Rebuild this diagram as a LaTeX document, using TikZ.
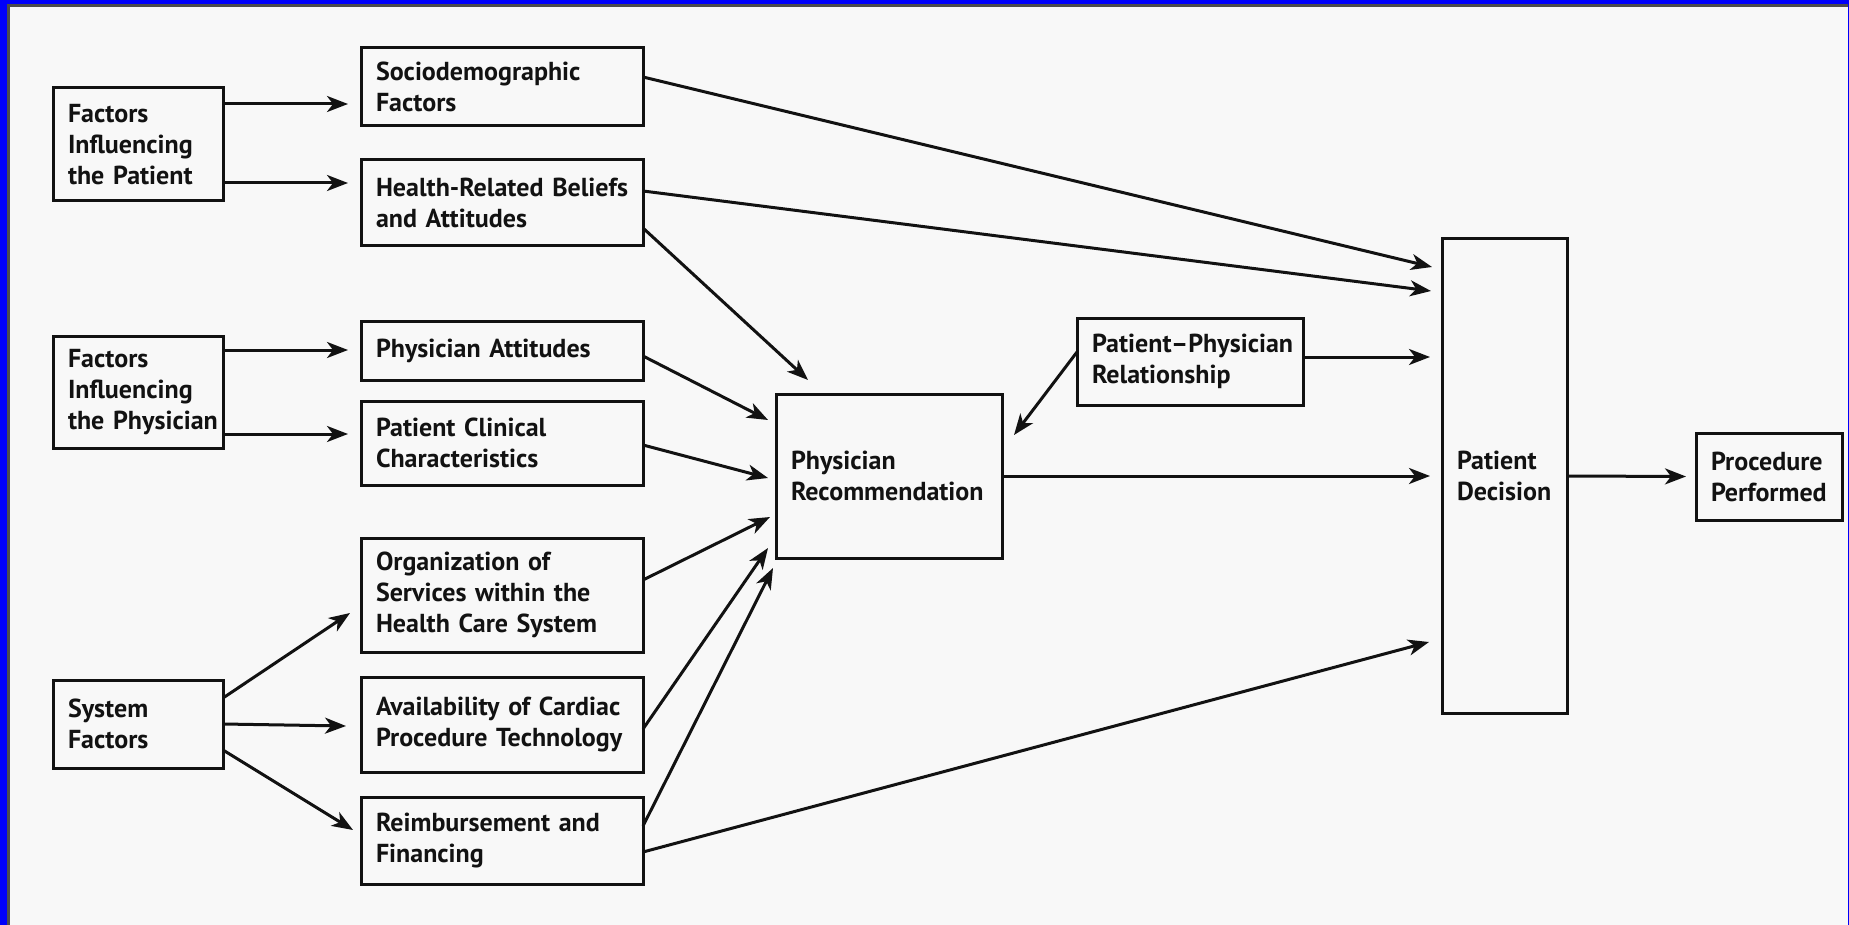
\documentclass[tikz,border=0pt]{standalone}
\usepackage{fontspec}
\setmainfont{PT Sans}
\usetikzlibrary{arrows.meta,calc}
\definecolor{frameblue}{RGB}{0,0,250}
\definecolor{bgcol}{RGB}{248,248,248}
\definecolor{ink}{RGB}{18,18,18}
\tikzset{
  box/.style={draw=ink, line width=3pt, inner xsep=15pt, inner ysep=0pt, outer sep=0pt,
    align=left, font=\bfseries\fontsize{26}{31}\selectfont, text=ink},
  conn/.style={draw=ink, line width=3pt, -{Stealth[length=21pt,width=16pt,inset=6pt]}},
}
\begin{document}
\begin{tikzpicture}[x=1pt,y=-1pt]
\useasboundingbox (0,0) rectangle (1849,925);
\fill[frameblue] (0,0) rectangle (1849,925);
\fill[bgcol] (7,4) rectangle (1848,925);
\draw[gray!60!black, line width=2.5pt] (8.5,925) -- (8.5,5.5) -- (1848,5.5);

\node[box, text width=140pt, minimum height=113pt] (fip) at (138,144.5) {Factors\\Influencing\\\mbox{the Patient}};
\node[box, text width=252pt, minimum height=78pt] (socio) at (502,87) {Sociodemographic\\Factors};
\node[box, text width=252pt, minimum height=86pt] (health) at (502,203) {\mbox{Health-Related Beliefs}\\and Attitudes};
\node[box, text width=140pt, minimum height=112pt] (fiph) at (138,392) {Factors\\Influencing\\\mbox{the Physician}};
\node[box, text width=252pt, minimum height=59pt] (physatt) at (502,350.5) {Physician Attitudes};
\node[box, text width=252pt, minimum height=84pt] (pcc) at (502,443) {Patient Clinical\\Characteristics};
\node[box, text width=252pt, minimum height=114pt] (org) at (502,595) {Organization of\\\mbox{Services within the}\\\mbox{Health Care System}};
\node[box, text width=252pt, minimum height=95pt] (avail) at (502,724.5) {\mbox{Availability of Cardiac}\\\mbox{Procedure Technology}};
\node[box, text width=252pt, minimum height=87pt] (reimb) at (502,840.5) {\mbox{Reimbursement and}\\Financing};
\node[box, text width=140pt, minimum height=88pt] (sysf) at (138,724) {System\\Factors};
\node[box, text width=196pt, minimum height=164pt] (physrec) at (889,476) {Physician\\Recommendation};
\node[box, text width=196pt, minimum height=87pt] (ppr) at (1190,361.5) {\mbox{Patient–Physician}\\Relationship};
\node[box, text width=95pt, minimum height=474pt] (patdec) at (1504.5,476) {Patient\\Decision};
\node[box, text width=116pt, minimum height=87pt] (proc) at (1769,476.5) {Procedure\\Performed};

% patient factors
\draw[conn] ($(fip.north east)+(0,16)$) -- ($(socio.north west)+(-13,56)$);
\draw[conn] ($(fip.north east)+(0,95)$) -- ($(health.north west)+(-13,23)$);
% physician factors
\draw[conn] ($(fiph.north east)+(0,14)$) -- ($(physatt.north west)+(-13,29)$);
\draw[conn] ($(fiph.north east)+(0,98)$) -- ($(pcc.north west)+(-13,33)$);
% system factors
\draw[conn] ($(sysf.north east)+(0,18)$) -- ($(org.north west)+(-11,75)$);
\draw[conn] ($(sysf.north east)+(0,44)$) -- ($(avail.north west)+(-15,49)$);
\draw[conn] ($(sysf.north east)+(0,70)$) -- ($(reimb.north west)+(-8,33)$);
% to patient decision
\draw[conn] ($(socio.north east)+(0,29)$) -- ($(patdec.north west)+(-10,28)$);
\draw[conn] ($(health.north east)+(0,31)$) -- ($(patdec.north west)+(-11,52)$);
\draw[conn] ($(reimb.north east)+(0,55)$) -- ($(patdec.north west)+(-13,403)$);
\draw[conn] ($(ppr.north east)+(0,39)$) -- ($(patdec.north west)+(-12,118)$);
\draw[conn] (physrec.east) -- ($(patdec.west)+(-12,0)$);
% to physician recommendation
\draw[conn] ($(health.north east)+(0,68)$) -- ($(physrec.north west)+(32,-14)$);
\draw[conn] ($(physatt.north east)+(0,35)$) -- ($(physrec.north west)+(-8,26)$);
\draw[conn] ($(pcc.north east)+(0,44)$) -- ($(physrec.north west)+(-8,84)$);
\draw[conn] ($(org.north east)+(0,42)$) -- ($(physrec.north west)+(-6,123)$);
\draw[conn] ($(avail.north east)+(0,52)$) -- ($(physrec.north west)+(-8,154)$);
\draw[conn] ($(reimb.north east)+(0,29)$) -- ($(physrec.north west)+(-3,174)$);
\draw[conn] ($(ppr.north west)+(0,34)$) -- ($(physrec.north east)+(12,41)$);
% outcome
\draw[conn] (patdec.east) -- ($(proc.west)+(-10,0)$);
\end{tikzpicture}
\end{document}
